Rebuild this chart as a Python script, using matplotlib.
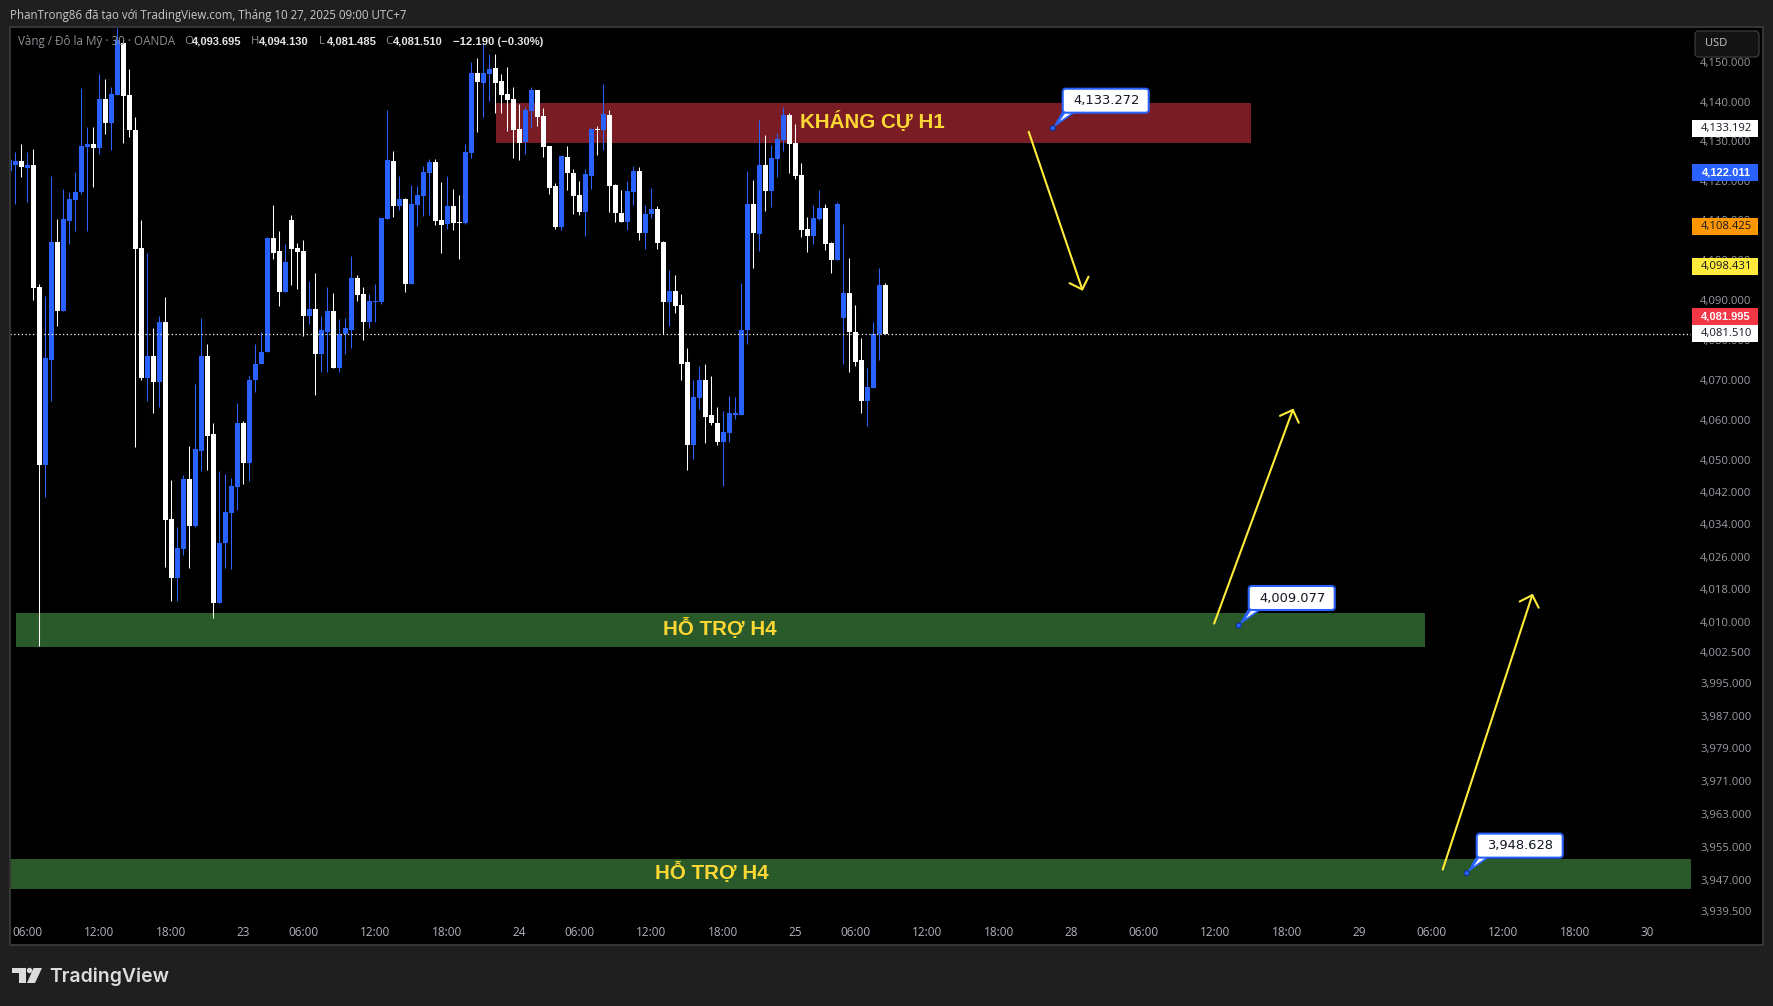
#!/usr/bin/env python
import numpy as np
import matplotlib
matplotlib.use('Agg')
from matplotlib import pyplot as plt
from matplotlib.patches import Polygon, Circle, Rectangle, FancyBboxPatch
from matplotlib.ticker import NullLocator
from matplotlib.transforms import Affine2D

W, H = 1773, 1006
plt.rcParams['font.family'] = ['Open Sans', 'DejaVu Sans']

opens = [4122.5,4124.0,4125.0,4123.2,4124.0,4093.3,4048.7,4075.0,4104.5,4087.3,4109.8,4115.1,4117.1,4128.5,4129.3,4128.3,4140.7,4134.6,4141.7,4155.0,
         4141.7,4132.8,4103.0,4070.5,4075.8,4069.5,4084.5,4035.3,4020.8,4028.0,4045.3,4033.6,4052.2,4076.0,4056.5,4014.6,4029.4,4036.8,4043.3,4059.1,
         4049.2,4069.8,4073.8,4076.8,4105.5,4102.3,4092.0,4110.1,4103.0,4102.3,4086.0,4087.8,4076.3,4082.0,4087.3,4073.0,4081.3,4082.5,4095.5,4091.5,
         4084.5,4089.5,4089.5,4110.3,4125.0,4113.6,4115.4,4094.0,4113.9,4116.1,4122.0,4124.7,4110.1,4109.1,4113.6,4109.6,4109.3,4127.0,4147.3,4144.8,
         4147.1,4148.6,4145.3,4142.0,4140.7,4133.1,4129.8,4137.7,4143.0,4136.4,4128.8,4118.6,4108.3,4126.0,4122.0,4116.4,4112.1,4121.2,4133.1,4132.8,
         4136.6,4118.9,4111.8,4109.6,4117.1,4122.5,4106.8,4111.6,4112.9,4104.5,4089.5,4092.3,4088.8,4074.3,4053.8,4065.3,4069.8,4061.1,4059.3,4054.5,
         4056.6,4061.3,4061.3,4082.3,4114.1,4106.5,4124.0,4117.4,4125.5,4130.3,4136.6,4129.6,4121.5,4107.8,4106.0,4110.3,4113.1,4104.3,4100.0,4085.5,
         4091.8,4082.0,4074.8,4064.6,4067.8,4081.5,4093.695]
highs = [4125.2,4127.3,4129.3,4127.3,4128.0,4094.0,4091.0,4121.2,4110.3,4117.9,4117.1,4122.2,4143.5,4133.6,4133.6,4147.1,4145.8,4143.8,4158.8,4155.7,
         4148.3,4136.1,4110.1,4101.8,4083.0,4086.0,4090.8,4045.0,4033.4,4046.3,4053.5,4068.8,4085.5,4078.8,4059.1,4047.3,4046.5,4045.5,4064.3,4059.6,
         4071.0,4079.0,4081.8,4105.8,4113.9,4107.3,4104.0,4111.3,4104.3,4105.0,4094.8,4096.8,4086.0,4093.3,4091.8,4085.3,4085.5,4101.0,4096.3,4093.3,
         4091.5,4094.0,4110.6,4137.9,4127.5,4121.2,4115.6,4118.9,4118.6,4123.7,4125.5,4125.5,4119.7,4121.2,4117.9,4116.4,4129.3,4150.1,4151.1,4155.0,
         4152.2,4152.2,4147.1,4148.8,4143.8,4139.4,4138.7,4143.8,4143.0,4138.4,4128.8,4119.4,4126.2,4128.8,4123.0,4119.9,4123.0,4133.3,4133.8,4144.5,
         4137.9,4119.2,4117.6,4119.9,4123.7,4123.5,4113.9,4118.1,4113.6,4104.8,4097.5,4096.3,4091.5,4078.0,4069.8,4073.5,4073.8,4071.0,4063.1,4062.1,
         4065.8,4065.6,4094.3,4122.5,4120.2,4135.4,4131.6,4129.1,4132.1,4138.7,4137.2,4134.3,4124.5,4110.8,4113.9,4117.6,4114.1,4104.5,4114.6,4109.1,
         4100.5,4088.8,4080.5,4072.8,4084.5,4098.0,4094.13]
lows = [4122.5,4114.1,4120.9,4114.6,4090.0,4004.1,4040.85,4064.6,4083.3,4087.3,4104.0,4107.3,4116.6,4107.3,4118.4,4126.8,4131.8,4127.8,4141.7,4129.6,
        4131.1,4053.25,4069.8,4064.6,4061.6,4063.1,4023.45,4015.1,4015.1,4026.5,4023.25,4033.4,4047.3,4047.5,4011.0,4014.6,4023.25,4022.95,4037.55,4044.0,
        4044.8,4066.8,4073.8,4076.8,4100.3,4088.5,4092.0,4093.8,4092.8,4080.8,4083.8,4066.1,4071.8,4072.0,4073.0,4072.0,4076.5,4078.0,4089.8,4080.0,
        4082.8,4084.3,4089.0,4110.3,4110.8,4112.6,4092.0,4094.0,4108.5,4111.1,4111.3,4108.8,4101.8,4107.8,4107.5,4100.3,4109.1,4125.7,4132.3,4136.1,
        4140.2,4137.2,4137.2,4132.6,4125.7,4125.2,4126.8,4133.3,4133.8,4126.0,4116.6,4107.8,4107.5,4117.6,4111.6,4111.3,4106.0,4117.9,4126.5,4127.8,
        4112.1,4109.6,4109.6,4107.5,4113.9,4105.0,4102.8,4110.6,4102.8,4081.5,4083.5,4086.8,4069.8,4047.5,4050.2,4062.6,4054.3,4058.6,4053.6,4043.6,
        4054.5,4060.1,4061.3,4079.0,4098.0,4102.3,4112.4,4113.4,4120.9,4127.5,4122.0,4120.4,4105.8,4102.0,4104.0,4110.1,4102.5,4096.8,4100.0,4073.8,
        4072.0,4073.3,4061.8,4058.4,4067.8,4075.0,4081.485]
closes = [4125.2,4125.0,4123.5,4124.0,4093.0,4048.7,4075.3,4104.5,4087.3,4110.3,4115.4,4117.1,4128.8,4129.3,4128.3,4140.7,4134.6,4142.0,4155.7,4141.5,
          4132.8,4102.8,4070.5,4075.8,4069.5,4084.5,4035.1,4020.8,4028.2,4045.3,4033.6,4052.7,4076.0,4056.0,4014.6,4029.4,4037.0,4043.6,4059.3,4049.2,
          4070.0,4074.0,4077.0,4105.5,4101.8,4092.0,4099.5,4102.8,4102.0,4086.0,4087.8,4076.3,4082.3,4087.3,4073.0,4081.5,4082.8,4095.5,4091.3,4084.5,
          4089.8,4089.8,4110.6,4125.2,4113.6,4115.4,4094.0,4114.1,4116.4,4122.2,4124.7,4109.8,4108.8,4113.6,4109.3,4109.3,4127.3,4147.3,4145.0,4147.3,
          4148.3,4144.8,4141.7,4140.5,4132.8,4129.6,4137.9,4143.0,4136.1,4128.5,4118.1,4108.3,4126.2,4122.0,4116.1,4112.1,4121.7,4133.1,4132.8,4136.9,
          4118.6,4111.8,4109.6,4117.4,4122.5,4106.8,4111.6,4112.9,4104.3,4089.5,4092.3,4088.5,4074.0,4053.8,4065.6,4069.8,4060.8,4059.1,4054.5,4056.9,
          4061.6,4061.6,4082.3,4114.1,4106.8,4124.0,4117.4,4125.7,4130.6,4136.6,4129.3,4121.2,4107.5,4106.0,4110.6,4113.1,4104.0,4100.0,4114.1,4091.8,
          4081.8,4074.5,4064.6,4068.1,4081.3,4093.7,4081.51]

price_ticks = [4150,4140,4130,4120,4110,4100,4090,4080,4070,4060,4050,4042,4034,4026,4018,4010,4002.5,
               3995,3987,3979,3971,3963,3955,3947,3939.5]
time_pos = [3,15,27,39,49,61,73,85,95,107,119,131,141,153,165,177,189,201,213,225,237,249,261,273]
time_labels = ['06:00','12:00','18:00','23','06:00','12:00','18:00','24','06:00','12:00','18:00','25',
               '06:00','12:00','18:00','28','06:00','12:00','18:00','29','06:00','12:00','18:00','30']

# zones: bar start, bar end, price low, price high, colour, label, label bar, label price
zones = [(81.1, 207.0, 4129.6, 4139.7, '#7a1c24', 'KHÁNG CỰ H1', 143.8, 4135.1),
         (1.1, 236.0, 4003.8, 4012.2, '#2a5a2a', 'HỖ TRỢ H4', 118.4, 4008.3),
         (0.1, 280.4, 3944.8, 3952.1, '#2a5a2a', 'HỖ TRỢ H4', 117.0, 3948.7)]
callouts = [(173.9, 4133.272, '4,133.272'), (204.9, 4009.077, '4,009.077'), (242.9, 3948.628, '3,948.628')]
arrows = [(169.9, 4132.35, 178.9, 4092.25), (200.8, 4009.55, 214.0, 4062.8), (238.9, 3949.5, 253.9, 4016.9)]
# price, text, box colour, text colour, bold, pixel shift of the label
price_tags = [(4133.192, '4,133.192', '#ffffff', '#131722', False, 0),
              (4122.011, '4,122.011', '#2962ff', '#ffffff', True, 0),
              (4108.425, '4,108.425', '#ff9800', '#131722', False, 0),
              (4098.431, '4,098.431', '#ffeb3b', '#131722', False, 0),
              (4081.995, '4,081.995', '#f23645', '#ffffff', True, -15),
              (4081.510, '4,081.510', '#ffffff', '#131722', False, 0)]

BLUE = '#2962ff'
YELLOW = '#ffeb3b'
BG = '#1f1f1f'
BOLD_FONT = ['Liberation Sans', 'DejaVu Sans']

fig = plt.figure(figsize=(W / 100, H / 100), dpi=100, facecolor=BG)
px = Affine2D().scale(1.0 / W, -1.0 / H).translate(0, 1) + fig.transFigure

# log scale: 16300 px per log unit, 4140 sits at y=101.7
ref_p, ref_y, k = 4140.0, 101.7, 16300.0


def x_of(i):
    return 9.33 + 6 * i


def y_of(p):
    return ref_y + k * np.log(ref_p / p)


def txt(x, y, s, **kw):
    kw.setdefault('va', 'center')
    fig.text(x / W, 1 - y / H, s, zorder=7, **kw)


# panel behind the chart and the price scale
fig.add_artist(Rectangle((10, 27), 1753, 918, transform=px, fc='black', ec='none', zorder=-1))
fig.add_artist(Rectangle((10, 27), 1753, 918, transform=px, fc='none', ec='#363636', lw=1.4, zorder=5))

ax = fig.add_axes([10 / W, 1 - 915 / H, (1691 - 10) / W, (915 - 27) / H], facecolor='black')
for s in ax.spines.values():
    s.set_visible(False)

ax.set_yscale('log')
ax.set_ylim(ref_p * np.exp(-(915 - ref_y) / k), ref_p * np.exp((ref_y - 27) / k))
ax.set_xlim((10 - 9.33) / 6, (1691 - 9.33) / 6)

for x0, x1, lo, hi, col, label, lx, ly in zones:
    ax.add_patch(Rectangle((x0, lo), x1 - x0, hi - lo, fc=col, ec='none', zorder=1))
    ax.text(lx, ly, label, color='#fdd835', fontsize=14.8, fontweight='bold', ha='center', va='center',
            zorder=4, family=BOLD_FONT)

o = np.array(opens)
h = np.array(highs)
l = np.array(lows)
c = np.array(closes)
idx = np.arange(len(o))
colors = np.where(c >= o, BLUE, '#ffffff')
ax.vlines(idx, l, h, colors=colors, lw=0.75, zorder=2)
ax.bar(idx, np.abs(c - o), bottom=np.minimum(o, c), width=5 / 6, color=colors, linewidth=0, zorder=2.2)

ax.plot(ax.get_xlim(), [closes[-1], closes[-1]], color='white', lw=0.9, dashes=(1, 2), zorder=2.5)

for x0, y0, x1, y1 in arrows:
    ax.annotate('', xy=(x1, y1), xytext=(x0, y0), zorder=3.5,
                arrowprops=dict(arrowstyle='->,head_length=0.72,head_width=0.72', color=YELLOW, lw=1.5,
                                shrinkA=0, shrinkB=0))

for bx, p, s in callouts:
    xp, yp = x_of(bx), y_of(p)
    # pointer, box and dot in pixel offsets from the anchor
    fig.add_artist(Polygon([(xp, yp), (xp + 9, yp - 16), (xp + 23, yp - 16)], transform=px, fc=BLUE, ec='none', zorder=5.6))
    fig.add_artist(Polygon([(xp + 7, yp - 7), (xp + 13, yp - 16), (xp + 20, yp - 16)], transform=px, fc='white', ec='none', zorder=5.7))
    fig.add_artist(FancyBboxPatch((xp + 11, yp - 38.5), 84, 22, boxstyle='round,pad=1,rounding_size=3', transform=px,
                                  fc='white', ec=BLUE, lw=1.5, zorder=5.8))
    fig.add_artist(Circle((xp, yp), 2.6, transform=px, fc=BLUE, ec='#0c2a80', lw=0.7, zorder=5.9))
    txt(xp + 53.3, yp - 27.3, s, color='#131722', fontsize=9.4, family='DejaVu Sans', ha='center')

ax.set_xticks(time_pos)
ax.set_xticklabels(time_labels)
ax.tick_params(axis='x', length=0, pad=8, labelsize=8.5, labelcolor='#b2b5be')
ax.yaxis.tick_right()
ax.set_yticks(price_ticks)
ax.yaxis.set_minor_locator(NullLocator())
ax.set_yticklabels(['{:,.3f}'.format(p) for p in price_ticks])
ax.tick_params(axis='y', length=0, pad=6.5, labelsize=8.15, labelcolor='#9a9ca3')

for p, s, fc, tc, bold, shift in price_tags:
    yc = y_of(p) + shift
    fig.add_artist(Rectangle((1692, yc - 8.5), 66, 17, transform=px, fc=fc, ec='none', zorder=6))
    if bold:
        txt(1726, yc, s, color=tc, fontsize=8.0, fontweight='bold', ha='center', family=BOLD_FONT)
    else:
        txt(1726, yc, s, color=tc, fontsize=8.15, ha='center')

# currency button
fig.add_artist(FancyBboxPatch((1697, 33), 60, 22, boxstyle='round,pad=2,rounding_size=4', transform=px,
                              fc='#131313', ec='#363636', lw=1.0, zorder=6))
txt(1705, 44, 'USD', color='#c8c8c8', fontsize=8)

# header and legend
txt(10, 15, 'PhanTrong86 đã tạo với TradingView.com, Tháng 10 27, 2025 09:00 UTC+7', color='#c9c9c9', fontsize=8.3)
txt(18, 42, 'Vàng / Đô la Mỹ · 30 · OANDA', color='#8f9199', fontsize=8.4)
legend_items = [(184, 'O', '4,093.695'), (251, 'H', '4,094.130'), (319, 'L', '4,081.485'), (385, 'C', '4,081.510')]
for x, a, b in legend_items:
    txt(x, 42, a, color='#8f9199', fontsize=8.2)
    txt(x + 7.5, 42, b, color='#e6e6e6', fontsize=8.0, fontweight='bold', family=BOLD_FONT)
txt(453, 42, '\u221212.190 (\u22120.30%)', color='#e6e6e6', fontsize=8.1, fontweight='bold', family=BOLD_FONT)

# logo
logo = '#dcdcdc'
fig.add_artist(Polygon([(12, 968), (25.5, 968), (25.5, 983), (19, 983), (19, 973), (12, 973)], transform=px, fc=logo, ec='none', zorder=6))
fig.add_artist(Circle((29.5, 970.5), 2.7, transform=px, fc=logo, ec='none', zorder=6))
fig.add_artist(Polygon([(33.5, 968), (42, 968), (35, 983), (27, 983)], transform=px, fc=logo, ec='none', zorder=6))
txt(49, 977, 'TradingView', color=logo, fontsize=14, fontweight='semibold', family=['Inter', 'DejaVu Sans'])

fig.savefig('out.png', dpi=100, facecolor=BG)
